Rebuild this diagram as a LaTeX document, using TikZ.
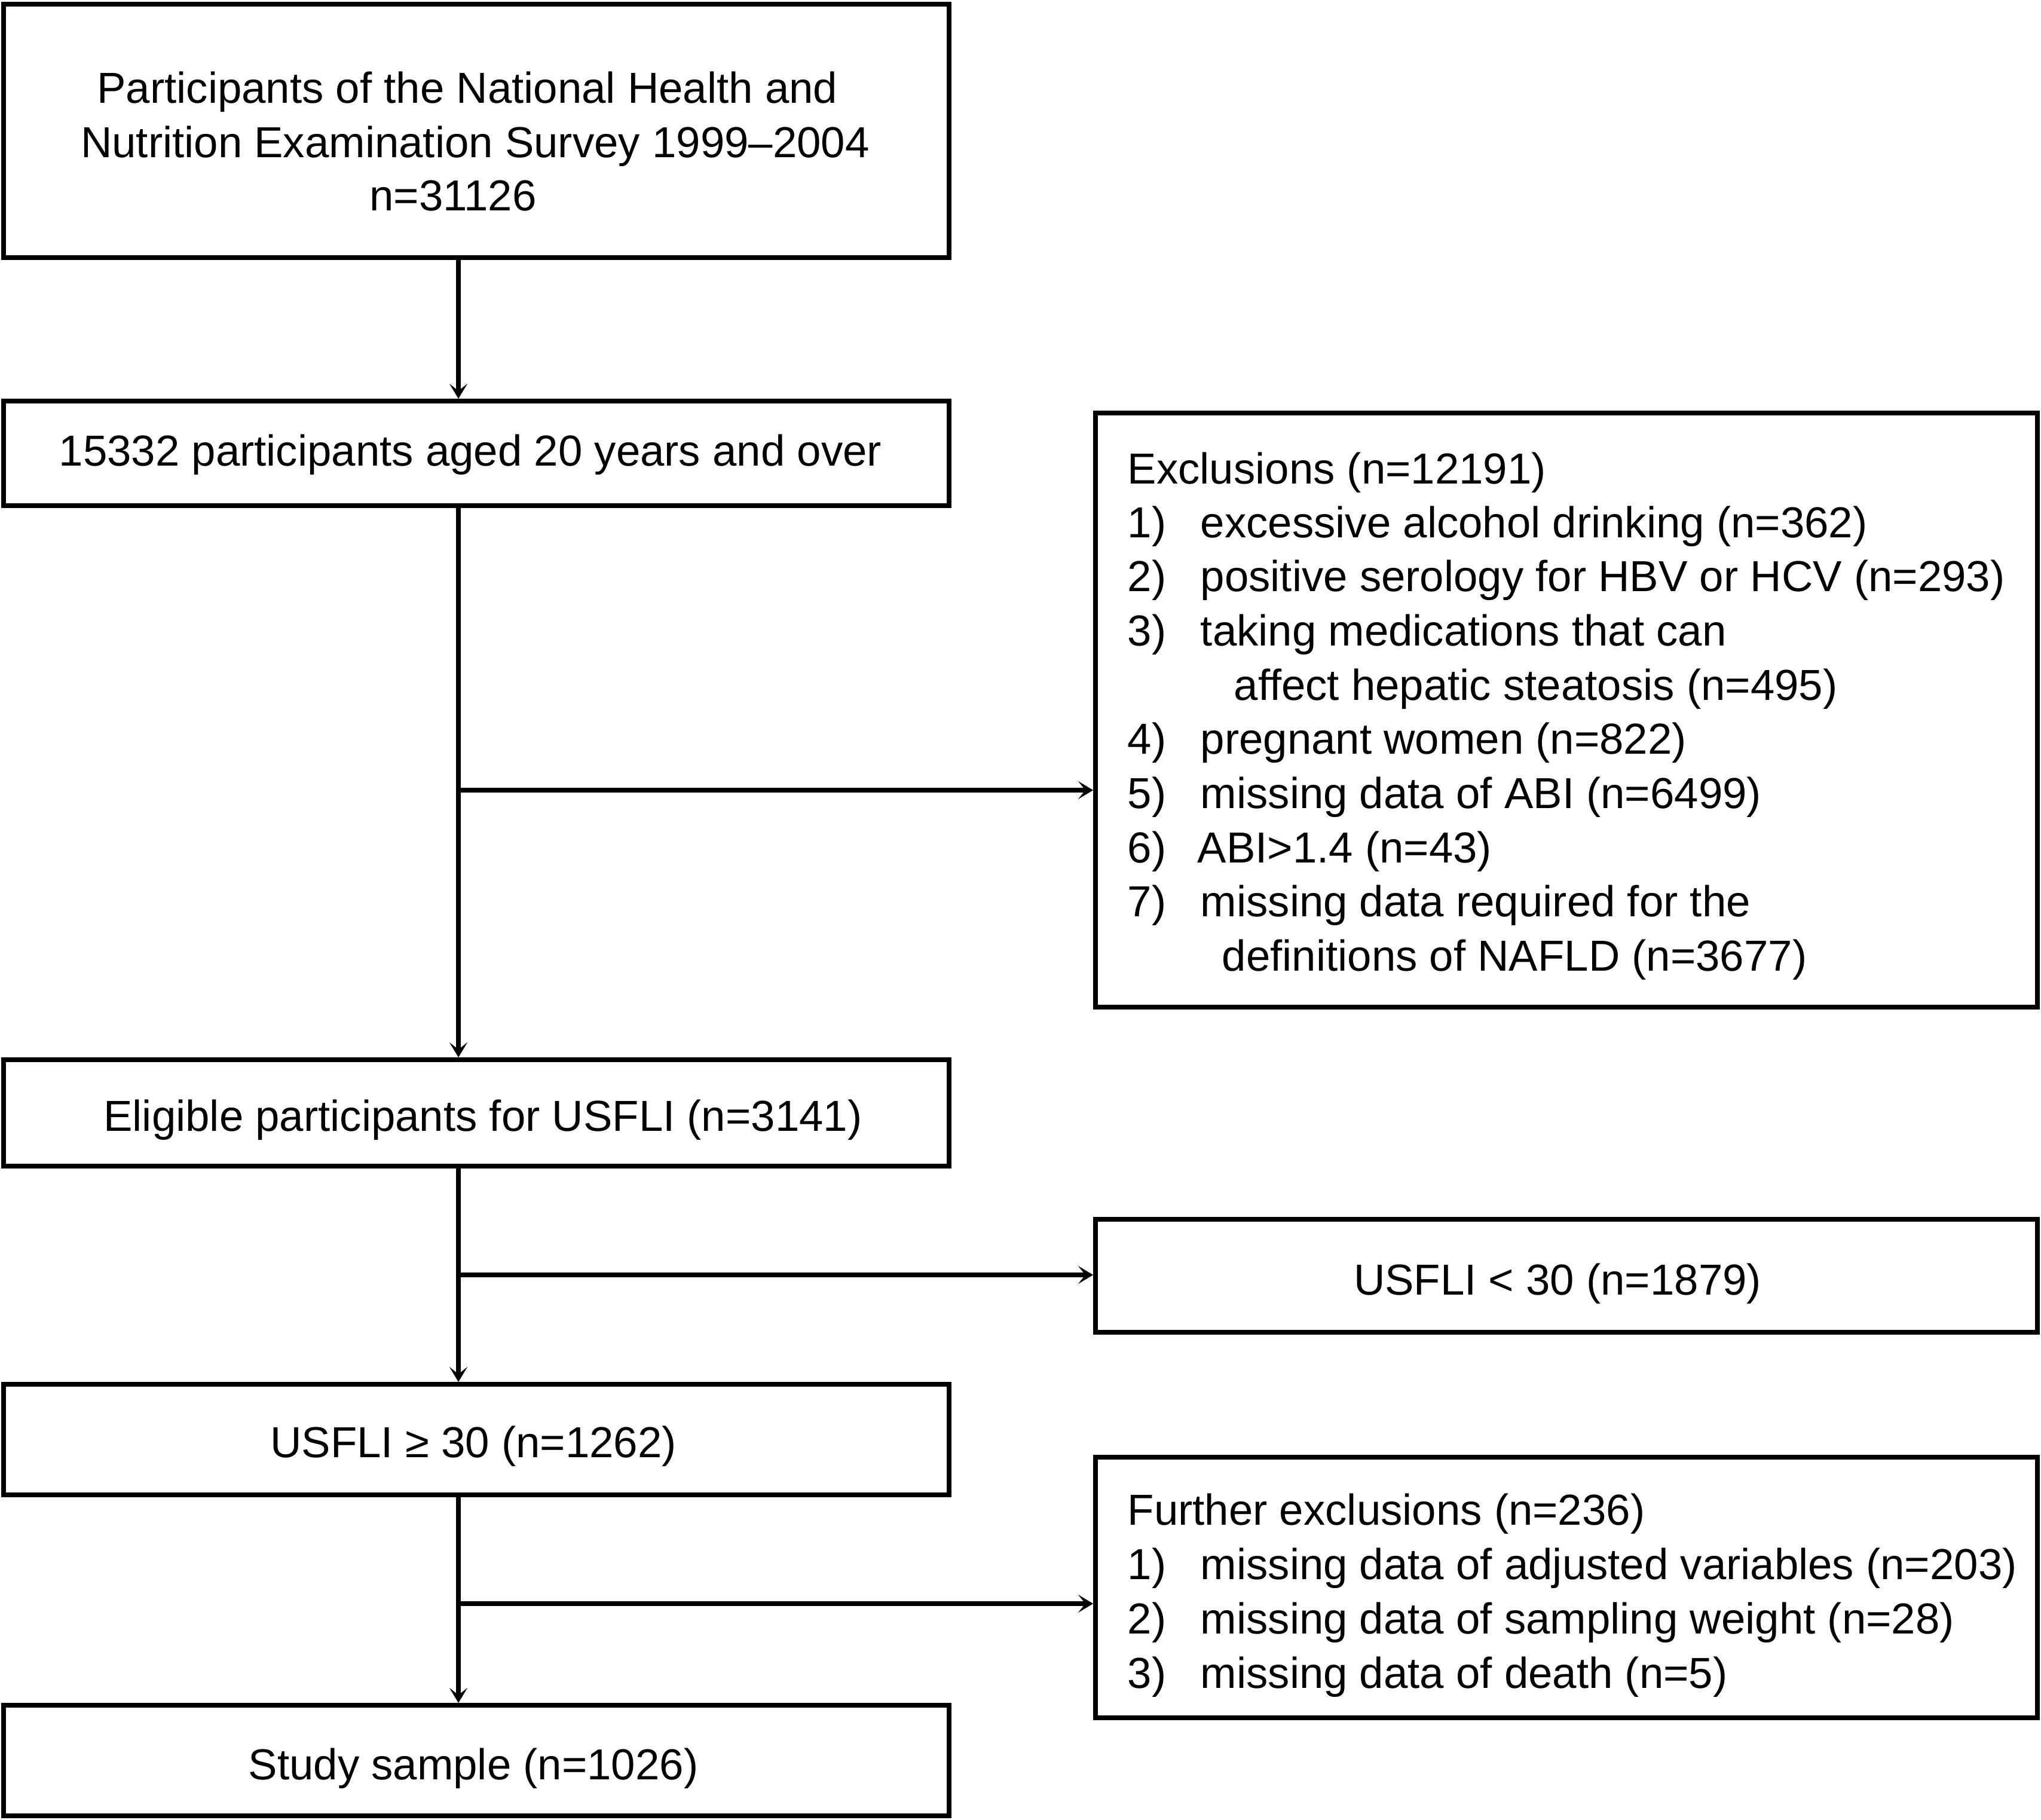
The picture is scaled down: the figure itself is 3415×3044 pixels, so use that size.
\documentclass[tikz,border=0pt]{standalone}
\usepackage{fontspec}
\setmainfont{Liberation Sans}
\usetikzlibrary{arrows.meta}
\begin{document}
\begin{tikzpicture}[x=0.25pt,y=-0.25pt,
  boxL/.style={draw=black, line width=2pt, inner sep=0pt, minimum width=395.5pt},
  boxR/.style={draw=black, line width=2pt, inner sep=0pt, minimum width=394pt},
  txt/.style={inner sep=0pt, font=\fontsize{18.15}{22}\selectfont},
  ctxt/.style={txt, anchor=base},
  ltxt/.style={txt, anchor=base west},
  conn/.style={draw=black, line width=2pt, -{Stealth[length=6.25pt, width=7.5pt, inset=3pt]}},
  plain/.style={draw=black, line width=2pt}]
\useasboundingbox (0,0) rectangle (3415,3044);
% left boxes
\node[boxL, minimum height=106pt] (b1) at (797,219) {};
\node[boxL, minimum height=43.75pt] (b2) at (797,758.5) {};
\node[boxL, minimum height=44.5pt] (b3) at (797,1862) {};
\node[boxL, minimum height=46.25pt] (b4) at (797,2408.5) {};
\node[boxL, minimum height=46.25pt] (b5) at (797,2945.5) {};
% right boxes
\node[boxR, minimum height=248.5pt] (ex1) at (2621,1188) {};
\node[boxR, minimum height=47.25pt] (ex2) at (2621,2134.5) {};
\node[boxR, minimum height=109pt] (ex3) at (2621,2656) {};
% left texts
\node[ctxt] (t1a) at (782,172) {Participants of the National Health and};
\node[ctxt] (t1b) at (795,263) {Nutrition Examination Survey 1999–2004};
\node[ctxt] (t1c) at (758,352) {n=31126};
\node[ctxt] (t2) at (787,779) {15332 participants aged 20 years and over};
\node[ctxt] (t3) at (808,1892) {Eligible participants for USFLI (n=3141)};
\node[ctxt] (t4) at (792,2438) {USFLI ≥ 30 (n=1262)};
\node[ctxt] (t5) at (792,2977) {Study sample (n=1026)};
\node[ctxt] (t6) at (2606,2166) {USFLI < 30 (n=1879)};
% exclusions list
\node[ltxt] (e0) at (1886,809) {Exclusions (n=12191)};
\node[ltxt] (e1n) at (1886,899) {1)};
\node[ltxt] (e1) at (2008,899) {excessive alcohol drinking (n=362)};
\node[ltxt] (e2n) at (1886,989) {2)};
\node[ltxt] (e2) at (2008,989) {positive serology for HBV or HCV (n=293)};
\node[ltxt] (e3n) at (1886,1080) {3)};
\node[ltxt] (e3) at (2008,1080) {taking medications that can};
\node[ltxt] (e3b) at (2064,1171) {affect hepatic steatosis (n=495)};
\node[ltxt] (e4n) at (1886,1261) {4)};
\node[ltxt] (e4) at (2008,1261) {pregnant women (n=822)};
\node[ltxt] (e5n) at (1886,1352) {5)};
\node[ltxt] (e5) at (2008,1352) {missing data of ABI (n=6499)};
\node[ltxt] (e6n) at (1886,1443) {6)};
\node[ltxt] (e6) at (2003,1443) {ABI>1.4 (n=43)};
\node[ltxt] (e7n) at (1886,1533) {7)};
\node[ltxt] (e7) at (2008,1533) {missing data required for the};
\node[ltxt] (e7b) at (2044,1624) {definitions of NAFLD (n=3677)};
% further exclusions
\node[ltxt] (f0) at (1886,2551) {Further exclusions (n=236)};
\node[ltxt] (f1n) at (1886,2642) {1)};
\node[ltxt] (f1) at (2008,2642) {missing data of adjusted variables (n=203)};
\node[ltxt] (f2n) at (1886,2733) {2)};
\node[ltxt] (f2) at (2008,2733) {missing data of sampling weight (n=28)};
\node[ltxt] (f3n) at (1886,2824) {3)};
\node[ltxt] (f3) at (2008,2824) {missing data of death (n=5)};
% connectors
\coordinate (vx) at (767,0);
\coordinate (h1) at (767,1322);
\coordinate (h2) at (767,2133);
\coordinate (h3) at (767,2683);
\draw[conn] (b1.south -| vx) -- (b2.north -| vx);
\draw[conn] (b2.south -| vx) -- (b3.north -| vx);
\draw[conn] (b3.south -| vx) -- (b4.north -| vx);
\draw[conn] (b4.south -| vx) -- (b5.north -| vx);
\draw[conn] (h1) -- (h1 -| ex1.west);
\draw[conn] (h2) -- (h2 -| ex2.west);
\draw[conn] (h3) -- (h3 -| ex3.west);
\end{tikzpicture}
\end{document}
